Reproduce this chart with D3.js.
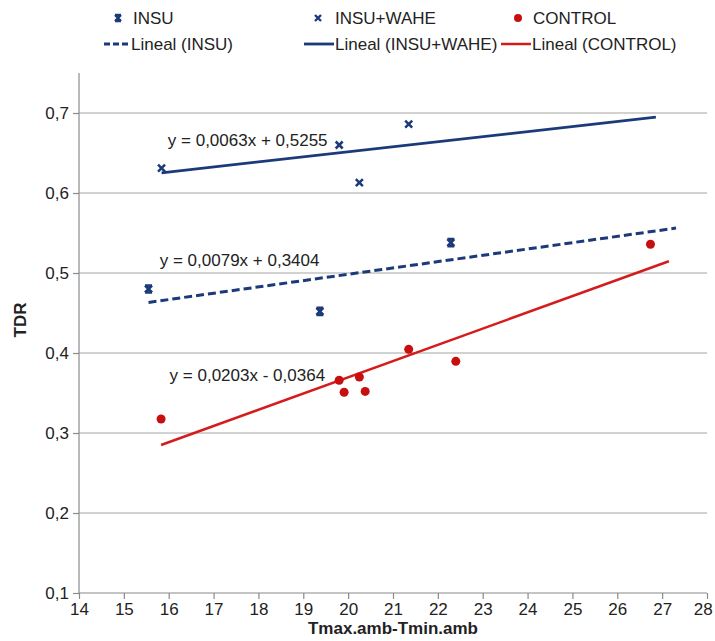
<!DOCTYPE html>
<html>
<head>
<meta charset="utf-8">
<script src="https://cdn.jsdelivr.net/npm/d3@7"></script>
<style>
  body { margin: 0; background: #fff; }
  text { font-family: "Liberation Sans", Arial, sans-serif; fill: #222; }
</style>
</head>
<body>
<svg id="chart" width="715" height="641"></svg>
<script>
// series data
var insuX = [15.55, 19.37, 22.29];
var insuY = [0.480, 0.452, 0.538];
var waheX = [15.84, 19.80, 20.25, 21.35];
var waheY = [0.631, 0.660, 0.613, 0.686];
var controlX = [15.83, 19.80, 19.91, 20.25, 20.38, 21.35, 22.40, 26.74];
var controlY = [0.3175, 0.366, 0.351, 0.370, 0.352, 0.4046, 0.3896, 0.536];

// trendlines: slope, intercept, x range drawn
var trendSlope = [0.0079, 0.0063, 0.0203];
var trendIntercept = [0.3404, 0.5255, -0.0364];
var trendFrom = [15.55, 15.84, 15.83];
var trendTo = [27.31, 26.86, 27.15];
var trendLabels = ["y = 0,0079x + 0,3404", "y = 0,0063x + 0,5255", "y = 0,0203x - 0,0364"];

var xTicks = [14, 15, 16, 17, 18, 19, 20, 21, 22, 23, 24, 25, 26, 27, 28];
var yTicks = [0.1, 0.2, 0.3, 0.4, 0.5, 0.6, 0.7];

var blue = "#1b3a7a", red = "#c80f0f", redLine = "#d41c1c";

var svg = d3.select("#chart"),
    width = +svg.attr("width"),
    height = +svg.attr("height");

var margin = {top: 73, right: 8, bottom: 48, left: 79};

var x = d3.scaleLinear().domain([14, 28]).range([margin.left, width - margin.right]);
var y = d3.scaleLinear().domain([0.1, 0.75]).range([height - margin.bottom, margin.top]);

var fmt = function (d) { return d3.format(".1f")(d).replace(".", ","); };

// gridlines
svg.append("g")
    .selectAll("line")
    .data(yTicks.slice(1))
    .enter().append("line")
    .attr("x1", x(14)).attr("x2", x(28))
    .attr("y1", function (d) { return y(d); })
    .attr("y2", function (d) { return y(d); })
    .attr("stroke", "#c3c3c3")
    .attr("stroke-width", 1.5);

// axes
var xAxis = svg.append("g")
    .attr("transform", "translate(0," + y(0.1) + ")")
    .call(d3.axisBottom(x).tickValues(xTicks).tickSize(6).tickPadding(4).tickFormat(d3.format("d")));
var yAxis = svg.append("g")
    .attr("transform", "translate(" + x(14) + ",0)")
    .call(d3.axisLeft(y).tickValues(yTicks).tickSize(6).tickPadding(4).tickFormat(fmt));

[xAxis, yAxis].forEach(function (ax) {
    ax.select(".domain").attr("stroke", "#8a8a8a").attr("stroke-width", 1.2);
    ax.selectAll(".tick line").attr("stroke", "#8a8a8a").attr("stroke-width", 1.2);
    ax.selectAll(".tick text")
        .style("font-family", "'Liberation Sans', Arial, sans-serif")
        .style("font-size", "17px")
        .attr("fill", "#222");
});
// last x label sits against the right edge
xAxis.selectAll(".tick text")
    .filter(function (d) { return d === 28; })
    .attr("text-anchor", "end")
    .attr("dx", "0.3em");
// d3 draws the domain with outer ticks; drop them
xAxis.select(".domain").attr("d", "M" + x(14) + ",0H" + x(28));
yAxis.select(".domain").attr("d", "M0," + y(0.75) + "V" + y(0.1));

svg.append("text")
    .attr("x", (x(14) + x(28)) / 2)
    .attr("y", 634)
    .attr("text-anchor", "middle")
    .style("font-size", "17px")
    .style("font-weight", "bold")
    .text("Tmax.amb-Tmin.amb");

svg.append("text")
    .attr("transform", "translate(26," + ((y(0.1) + y(0.75)) / 2 - 13) + ") rotate(-90)")
    .attr("text-anchor", "middle")
    .style("font-size", "17px")
    .style("font-weight", "bold")
    .text("TDR");

// trendlines
var trendStyles = [
    {color: blue, dash: "8,4", width: 3},
    {color: blue, dash: null, width: 2.8},
    {color: redLine, dash: null, width: 2.5}
];
trendSlope.forEach(function (m, i) {
    var b = trendIntercept[i];
    svg.append("line")
        .attr("x1", x(trendFrom[i])).attr("y1", y(m * trendFrom[i] + b))
        .attr("x2", x(trendTo[i])).attr("y2", y(m * trendTo[i] + b))
        .attr("stroke", trendStyles[i].color)
        .attr("stroke-width", trendStyles[i].width)
        .attr("stroke-dasharray", trendStyles[i].dash);
});

// markers
function starPath(s) {
    return "M" + (-s) + "," + (-s) + "L" + s + "," + s +
        "M" + s + "," + (-s) + "L" + (-s) + "," + s +
        "M" + (-s) + "," + (-s) + "L" + s + "," + (-s) +
        "M" + (-s) + "," + s + "L" + s + "," + s;
}
function crossPath(s) {
    return "M" + (-s) + "," + (-s) + "L" + s + "," + s +
        "M" + s + "," + (-s) + "L" + (-s) + "," + s;
}

svg.append("g").selectAll("path")
    .data(d3.range(insuX.length))
    .enter().append("path")
    .attr("transform", function (i) { return "translate(" + x(insuX[i]) + "," + y(insuY[i]) + ")"; })
    .attr("d", starPath(3.5))
    .attr("stroke", blue).attr("stroke-width", 2.6).attr("fill", "none");

svg.append("g").selectAll("path")
    .data(d3.range(waheX.length))
    .enter().append("path")
    .attr("transform", function (i) { return "translate(" + x(waheX[i]) + "," + y(waheY[i]) + ")"; })
    .attr("d", crossPath(3.5))
    .attr("stroke", blue).attr("stroke-width", 2.5).attr("fill", "none");

svg.append("g").selectAll("circle")
    .data(d3.range(controlX.length))
    .enter().append("circle")
    .attr("cx", function (i) { return x(controlX[i]); })
    .attr("cy", function (i) { return y(controlY[i]); })
    .attr("r", 4.5)
    .attr("fill", red);

// trendline equations (placed as in the original, in data units)
var labelPos = [[15.8, 0.516], [15.98, 0.666], [16.02, 0.372]];
trendLabels.forEach(function (t, i) {
    svg.append("text")
        .attr("x", x(labelPos[i][0]))
        .attr("y", y(labelPos[i][1]))
        .attr("dy", "0.35em")
        .style("font-size", "17px")
        .text(t);
});

// legend
var legend = svg.append("g");
var row1 = 18, row2 = 44;
legend.append("path").attr("transform", "translate(118," + row1 + ")")
    .attr("d", starPath(3)).attr("stroke", blue).attr("stroke-width", 2.4).attr("fill", "none");
legend.append("text").attr("x", 133).attr("y", row1).attr("dy", "0.35em").style("font-size", "17px").text("INSU");
legend.append("path").attr("transform", "translate(318," + row1 + ")")
    .attr("d", crossPath(3)).attr("stroke", blue).attr("stroke-width", 2.4).attr("fill", "none");
legend.append("text").attr("x", 335).attr("y", row1).attr("dy", "0.35em").style("font-size", "17px").text("INSU+WAHE");
legend.append("circle").attr("cx", 518).attr("cy", row1).attr("r", 4).attr("fill", red);
legend.append("text").attr("x", 533).attr("y", row1).attr("dy", "0.35em").style("font-size", "17px").text("CONTROL");

legend.append("line").attr("x1", 104).attr("x2", 130).attr("y1", row2).attr("y2", row2)
    .attr("stroke", blue).attr("stroke-width", 3).attr("stroke-dasharray", "6,3");
legend.append("text").attr("x", 131).attr("y", row2).attr("dy", "0.35em").style("font-size", "17px").text("Lineal (INSU)");
legend.append("line").attr("x1", 304).attr("x2", 334).attr("y1", row2).attr("y2", row2)
    .attr("stroke", blue).attr("stroke-width", 2.8);
legend.append("text").attr("x", 335).attr("y", row2).attr("dy", "0.35em").style("font-size", "17px").text("Lineal (INSU+WAHE)");
legend.append("line").attr("x1", 501).attr("x2", 531).attr("y1", row2).attr("y2", row2)
    .attr("stroke", redLine).attr("stroke-width", 2.5);
legend.append("text").attr("x", 532).attr("y", row2).attr("dy", "0.35em").style("font-size", "17px").text("Lineal (CONTROL)");
</script>
</body>
</html>
